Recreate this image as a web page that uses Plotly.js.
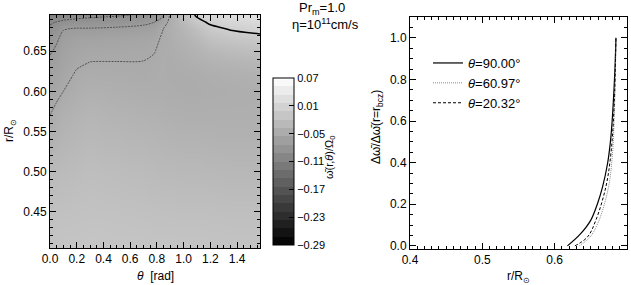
<!DOCTYPE html>
<html>
<head>
<meta charset="utf-8">
<script src="https://cdn.plot.ly/plotly-3.0.1.min.js"></script>
<style>html,body{margin:0;padding:0;background:#fff;}#chart{width:631px;height:285px;}</style>
</head>
<body>
<div id="chart"></div>
<script>
// ---------- left panel: omega(r, theta) ----------
var theta = [0, 0.05, 0.1, 0.2, 0.3, 0.5, 0.7, 0.78, 0.84, 0.9, 1.0, 1.1, 1.2, 1.35, 1.5708];
var radius = [0.405, 0.45, 0.5, 0.54, 0.57, 0.6, 0.62, 0.635, 0.65, 0.665, 0.678, 0.686, 0.695];
// one column of omega values (at each radius) per theta
var w_t000 = [-0.013,-0.019,-0.028,-0.040,-0.050,-0.057,-0.062,-0.066,-0.072,-0.079,-0.086,-0.093,-0.112];
var w_t005 = [-0.013,-0.018,-0.027,-0.037,-0.045,-0.054,-0.059,-0.063,-0.067,-0.072,-0.082,-0.089,-0.106];
var w_t010 = [-0.012,-0.018,-0.026,-0.034,-0.041,-0.050,-0.055,-0.058,-0.061,-0.065,-0.071,-0.086,-0.100];
var w_t020 = [-0.012,-0.017,-0.024,-0.031,-0.037,-0.044,-0.048,-0.052,-0.056,-0.061,-0.069,-0.083,-0.098];
var w_t030 = [-0.011,-0.016,-0.022,-0.029,-0.034,-0.041,-0.046,-0.0495,-0.054,-0.060,-0.069,-0.082,-0.095];
var w_t050 = [-0.012,-0.017,-0.024,-0.031,-0.037,-0.043,-0.047,-0.0495,-0.053,-0.058,-0.067,-0.080,-0.092];
var w_t070 = [-0.012,-0.018,-0.026,-0.033,-0.039,-0.045,-0.048,-0.0495,-0.052,-0.056,-0.064,-0.075,-0.088];
var w_t078 = [-0.013,-0.019,-0.027,-0.034,-0.040,-0.045,-0.047,-0.048,-0.0505,-0.054,-0.061,-0.070,-0.084];
var w_t084 = [-0.013,-0.019,-0.028,-0.035,-0.041,-0.045,-0.046,-0.046,-0.047,-0.048,-0.051,-0.060,-0.075];
var w_t090 = [-0.013,-0.019,-0.028,-0.036,-0.042,-0.046,-0.047,-0.047,-0.046,-0.045,-0.044,-0.045,-0.048];
var w_t100 = [-0.013,-0.020,-0.029,-0.037,-0.043,-0.047,-0.047,-0.045,-0.042,-0.038,-0.033,-0.027,-0.018];
var w_t110 = [-0.013,-0.020,-0.029,-0.037,-0.043,-0.047,-0.046,-0.042,-0.037,-0.030,-0.020,-0.008,0.004];
var w_t120 = [-0.014,-0.020,-0.030,-0.038,-0.043,-0.046,-0.044,-0.039,-0.031,-0.019,-0.006,0.004,0.014];
var w_t135 = [-0.014,-0.021,-0.031,-0.039,-0.043,-0.045,-0.042,-0.036,-0.026,-0.012,0.002,0.012,0.022];
var w_t157 = [-0.014,-0.021,-0.031,-0.039,-0.043,-0.044,-0.040,-0.033,-0.021,-0.007,0.007,0.017,0.027];
var omegaColumns = [w_t000,w_t005,w_t010,w_t020,w_t030,w_t050,w_t070,w_t078,w_t084,w_t090,w_t100,w_t110,w_t120,w_t135,w_t157];
var cbTickVals = [0.07, 0.01, -0.05, -0.11, -0.17, -0.23, -0.29];
var cbTickText = ['0.07', '0.01', '\u22120.05', '\u22120.11', '\u22120.17', '\u22120.23', '\u22120.29'];
var dashedLevels = {start: -0.09, end: -0.05, size: 0.02};
var solidLevel = 0.0;

// ---------- right panel: normalised delta omega ----------
var r_90 = [0.6176, 0.635, 0.650, 0.6593, 0.6662, 0.6732, 0.6778, 0.681, 0.6833, 0.6847];
var v_90 = [0.0, 0.055, 0.124, 0.204, 0.284, 0.397, 0.526, 0.687, 0.847, 1.0];
var r_61 = [0.634, 0.649, 0.6615, 0.6745, 0.680, 0.6829, 0.6847];
var v_61 = [0.0, 0.043, 0.124, 0.284, 0.445, 0.687, 1.0];
var r_20 = [0.628, 0.6454, 0.657, 0.6708, 0.6778, 0.6824, 0.6847];
var v_20 = [0.0, 0.043, 0.124, 0.284, 0.445, 0.687, 1.0];
var seriesNames = ['<i>\u03b8</i>=90.00\u00b0', '<i>\u03b8</i>=60.97\u00b0', '<i>\u03b8</i>=20.32\u00b0'];

// build z[row=radius][col=theta]
var zGrid = radius.map(function (r, i) {
  return omegaColumns.map(function (col) { return col[i]; });
});

var FONT = 'Liberation Sans, Arial, Helvetica, sans-serif';
var gray = [[0, '#000000'], [1, '#ffffff']];
var W = 631, H = 285;
function px(x) { return x / W; }
function py(y) { return 1 - y / H; }

var traces = [
  { // smooth field seen in the panel
    type: 'heatmap', x: theta, y: radius, z: zGrid, xaxis: 'x', yaxis: 'y',
    colorscale: gray, zmin: -0.29, zmax: 0.07, zauto: false, zsmooth: 'best',
    hoverinfo: 'skip', showscale: false, showlegend: false
  },
  { // banded, transparent copy that only carries the colour bar
    type: 'contour', x: theta, y: radius, z: zGrid, xaxis: 'x', yaxis: 'y',
    colorscale: gray, zmin: -0.29, zmax: 0.07, zauto: false, opacity: 0,
    contours: {coloring: 'fill', start: -0.29, end: 0.07, size: 0.018, showlines: false},
    line: {width: 0}, hoverinfo: 'skip', showscale: true, showlegend: false,
    colorbar: {
      x: px(273), xanchor: 'left', thickness: 21, thicknessmode: 'pixels',
      y: py(161.5), yanchor: 'middle', len: (245 - 78) / H, lenmode: 'fraction',
      xpad: 0, ypad: 0, outlinewidth: 1, outlinecolor: '#000',
      tickmode: 'array', tickvals: cbTickVals, ticktext: cbTickText,
      ticks: 'inside', ticklen: 5, tickcolor: '#000',
      tickfont: {family: FONT, size: 11, color: '#000'}
    }
  },
  { // dashed negative contour lines
    type: 'contour', x: theta, y: radius, z: zGrid, xaxis: 'x', yaxis: 'y',
    contours: {coloring: 'none', start: dashedLevels.start, end: dashedLevels.end, size: dashedLevels.size},
    line: {color: '#555', width: 1, dash: '2px,1px', smoothing: 0.8},
    showscale: false, showlegend: false, hoverinfo: 'skip'
  },
  { // solid zero contour
    type: 'contour', x: theta, y: radius, z: zGrid, xaxis: 'x', yaxis: 'y',
    contours: {coloring: 'none', start: solidLevel, end: solidLevel, size: 1},
    line: {color: '#000', width: 1.5, smoothing: 1},
    showscale: false, showlegend: false, hoverinfo: 'skip'
  },
  {
    type: 'scatter', mode: 'lines', x: r_90, y: v_90, xaxis: 'x2', yaxis: 'y2',
    name: seriesNames[0], line: {color: '#000', width: 1.2, shape: 'spline'}
  },
  {
    type: 'scatter', mode: 'lines', x: r_61, y: v_61, xaxis: 'x2', yaxis: 'y2',
    name: seriesNames[1], line: {color: '#8a8a8a', width: 1, dash: '1px,1px', shape: 'spline'}
  },
  {
    type: 'scatter', mode: 'lines', x: r_20, y: v_20, xaxis: 'x2', yaxis: 'y2',
    name: seriesNames[2], line: {color: '#000', width: 1, dash: '3px,2px', shape: 'spline'}
  }
];

function axisStyle(extra) {
  var a = {
    showline: true, linecolor: '#000', linewidth: 1, mirror: 'ticks',
    ticks: 'inside', ticklen: 6, tickwidth: 1, tickcolor: '#000',
    showgrid: false, zeroline: false,
    tickfont: {family: FONT, size: 12, color: '#000'}
  };
  for (var k in extra) a[k] = extra[k];
  return a;
}

var layout = {
  width: W, height: H,
  margin: {l: 0, r: 0, t: 0, b: 0, pad: 0},
  paper_bgcolor: '#fff', plot_bgcolor: '#fff',
  showlegend: true,
  legend: {
    x: px(428), y: py(48), xanchor: 'left', yanchor: 'top',
    bgcolor: 'rgba(0,0,0,0)', borderwidth: 0,
    font: {family: FONT, size: 13, color: '#000'},
    tracegroupgap: 0
  },
  xaxis: axisStyle({
    domain: [px(50), px(260)], range: [0, Math.PI / 2], anchor: 'y',
    tickmode: 'linear', tick0: 0, dtick: 0.2, tickformat: '.1f',
    minor: {ticks: 'inside', ticklen: 3, tickcolor: '#000', dtick: 0.05, showgrid: false}
  }),
  yaxis: axisStyle({
    domain: [py(248), py(15)], range: [0.405, 0.695], anchor: 'x',
    tickmode: 'linear', tick0: 0.45, dtick: 0.05, tickformat: '.2f',
    minor: {ticks: 'inside', ticklen: 3, tickcolor: '#000', dtick: 0.01, showgrid: false}
  }),
  xaxis2: axisStyle({
    domain: [px(410), px(627)], range: [0.4, 0.7], anchor: 'y2',
    tickmode: 'linear', tick0: 0.4, dtick: 0.1, tickformat: '.1f',
    minor: {ticks: 'inside', ticklen: 3, tickcolor: '#000', dtick: 0.01, showgrid: false}
  }),
  yaxis2: axisStyle({
    domain: [py(249), py(17)], range: [-0.015, 1.1], anchor: 'x2',
    tickmode: 'linear', tick0: 0, dtick: 0.2, tickformat: '.1f',
    minor: {ticks: 'inside', ticklen: 3, tickcolor: '#000', dtick: 0.05, showgrid: false}
  }),
  annotations: [
    {text: 'Pr<sub>m</sub>=1.0', xref: 'paper', yref: 'paper', x: px(322), y: py(9),
     showarrow: false, xanchor: 'center', yanchor: 'middle', font: {family: FONT, size: 13, color: '#000'}},
    {text: '\u03b7=10<sup>11</sup>cm/s', xref: 'paper', yref: 'paper', x: px(325), y: py(24),
     showarrow: false, xanchor: 'center', yanchor: 'middle', font: {family: FONT, size: 13, color: '#000'}},
    {text: '<i>\u03b8</i>  [rad]', xref: 'paper', yref: 'paper', x: px(155), y: py(276),
     showarrow: false, xanchor: 'center', yanchor: 'middle', font: {family: FONT, size: 12, color: '#000'}},
    {text: 'r/R<sub>\u2299</sub>', xref: 'paper', yref: 'paper', x: px(10), y: py(131), textangle: -90,
     showarrow: false, xanchor: 'center', yanchor: 'middle', font: {family: FONT, size: 12, color: '#000'}},
    {text: '\u03c9\u0304(r,<i>\u03b8</i>)/\u03a9<sub>0</sub>', xref: 'paper', yref: 'paper', x: px(330), y: py(157), textangle: -90,
     showarrow: false, xanchor: 'center', yanchor: 'middle', font: {family: FONT, size: 11, color: '#000'}},
    {text: 'r/R<sub>\u2299</sub>', xref: 'paper', yref: 'paper', x: px(518), y: py(277),
     showarrow: false, xanchor: 'center', yanchor: 'middle', font: {family: FONT, size: 12, color: '#000'}},
    {text: '\u0394\u03c9\u0304/\u0394\u03c9\u0304(r=r<sub>bcz</sub>)', xref: 'paper', yref: 'paper', x: px(377), y: py(127), textangle: -90,
     showarrow: false, xanchor: 'center', yanchor: 'middle', font: {family: FONT, size: 12, color: '#000'}}
  ]
};

Plotly.newPlot('chart', traces, layout, {displayModeBar: false, staticPlot: true});
</script>
</body>
</html>
